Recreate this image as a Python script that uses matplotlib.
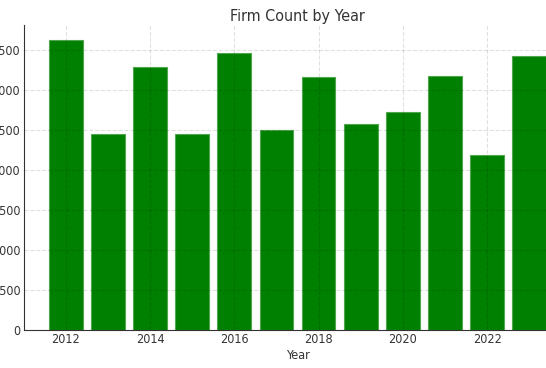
import matplotlib
matplotlib.use('Agg')
import matplotlib.pyplot as plt

years = [2012, 2013, 2014, 2015, 2016, 2017, 2018, 2019, 2020, 2021, 2022, 2023]
firm_counts = [18170, 12270, 16480, 12230, 17310, 12500, 15855, 12917, 13667, 15875, 10917, 17146]

txt = '#333333'
plt.rcParams['font.stretch'] = 'condensed'

fig = plt.figure(figsize=(5.46, 3.68), dpi=100)
# axes runs past the right edge of the figure, like the cropped original
ax = fig.add_axes([24 / 546, 38 / 368, (571 - 24) / 546, (330 - 25) / 368])

ax.bar(years, firm_counts, width=0.8, color='green', edgecolor='#4fa64f', linewidth=0.8)

ax.set_axisbelow(False)
ax.grid(True, linestyle='--', color='black', alpha=0.12, linewidth=0.8)

ax.set_xticks([2012, 2014, 2016, 2018, 2020, 2022])
ax.set_yticks(range(0, 17501, 2500))
ax.set_title('Firm Count by Year', fontsize=11.5, color=txt, pad=3)
ax.set_xlabel('Year', fontsize=9, color=txt, labelpad=1.5)
ax.tick_params(labelsize=9, colors=txt, length=0, pad=2.5)

for s in ['top', 'right']:
    ax.spines[s].set_visible(False)
for s in ['left', 'bottom']:
    ax.spines[s].set_color(txt)

fig.savefig('out.png', dpi=100)
